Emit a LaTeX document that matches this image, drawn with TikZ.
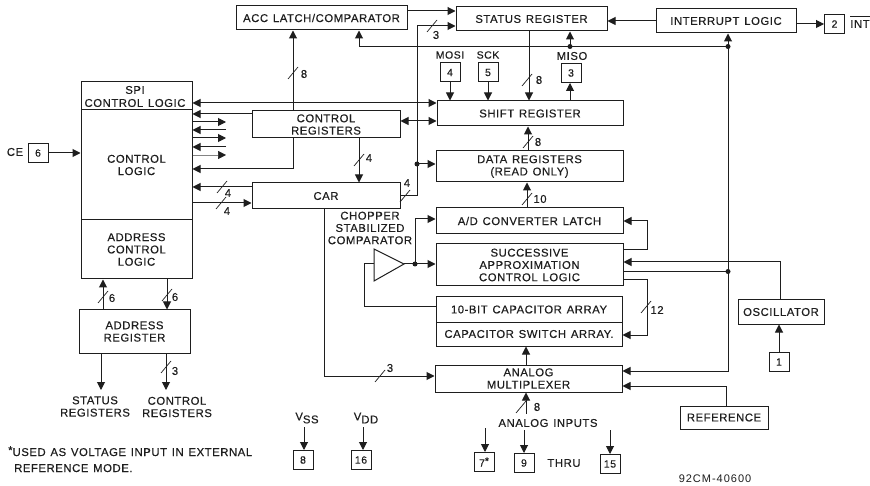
\documentclass[tikz,border=0pt]{standalone}
\usepackage{fontspec}
\setmainfont{Liberation Sans}[LetterSpace=5,WordSpace=1.3,FakeBold=0.35]
\newfontfamily\thinfont{Liberation Sans}[LetterSpace=9]
\usetikzlibrary{arrows.meta}
\definecolor{ink}{HTML}{1E1E1E}
\tikzset{
  tipn/.tip={Triangle[length=8pt,width=8pt]},
  conn/.style={draw=ink,line width=1pt},
  arr/.style={conn,-tipn},
  darr/.style={conn,tipn-tipn},
  faint/.style={draw=ink!55,line width=0.5pt,-{Triangle[length=8pt,width=8pt,color=ink]}},
  slashm/.style={draw=ink,line width=0.7pt},
  boxn/.style={draw=ink,line width=1pt,inner sep=0pt,align=center,text=ink,font=\fontsize{11.3}{12.3}\selectfont},
  lab/.style={inner sep=0pt,align=center,text=ink,font=\fontsize{11.3}{12.3}\selectfont},
  labs/.style={lab,font=\fontsize{10.5}{12}\selectfont},
  pin/.style={draw=ink,line width=1pt,inner sep=0pt,minimum width=20pt,minimum height=19pt,text=ink,font=\fontsize{10.5}{12}\selectfont},
  dotn/.style={circle,fill=ink,inner sep=0pt,minimum size=5pt}
}
\newcommand{\bx}[6]{\node[boxn,minimum width={(#4-#2)*1pt},minimum height={(#5-#3)*1pt}] (#1) at ({(#2+#4)/2},{(#3+#5)/2}) {#6};}
\newcommand{\slm}[2]{\draw[slashm] ({#1-5},{#2+6}) -- ({#1+5},{#2-6});}
\newcommand{\vsub}[1]{V\raisebox{-3pt}{#1}}
\begin{document}
\begin{tikzpicture}[x=1pt,y=-1pt]
\useasboundingbox (0,0) rectangle (870,486);
\fill[white] (0,0) rectangle (870,486);
% boxes
\bx{acc}{236}{6}{407}{30}{ACC LATCH/COMPARATOR}
\bx{status}{456}{7}{607}{31}{STATUS REGISTER}
\bx{intr}{656}{9}{796}{33}{INTERRUPT LOGIC}
\bx{spi}{81}{82}{192}{110}{}
\bx{ctl}{81}{110}{192}{220}{CONTROL\\LOGIC}
\bx{adc}{81}{220}{192}{279}{ADDRESS\\CONTROL\\LOGIC}
\bx{creg}{252}{111}{400}{138}{CONTROL\\REGISTERS}
\bx{car}{252}{183}{400}{209}{CAR}
\bx{shift}{437}{101}{623}{126}{SHIFT REGISTER}
\bx{data}{436}{151}{623}{182}{DATA REGISTERS\\(READ ONLY)}
\bx{adl}{436}{208}{623}{234}{A/D CONVERTER LATCH}
\bx{sar}{436}{244}{623}{286}{SUCCESSIVE\\APPROXIMATION\\CONTROL LOGIC}
\bx{cap}{436}{297}{622}{322}{10-BIT CAPACITOR ARRAY}
\bx{csw}{436}{322}{622}{346}{CAPACITOR SWITCH ARRAY.}
\bx{mux}{435}{365}{622}{392}{ANALOG\\MULTIPLEXER}
\bx{addr}{79}{310}{190}{353}{ADDRESS\\REGISTER}
\bx{osc}{738}{300}{824}{324}{OSCILLATOR}
\bx{ref}{680}{406}{768}{429}{REFERENCE}
\node[pin] (p6) at (38,153) {6};
\node[pin] (p2) at (834.5,24) {2};
\node[pin] (p4) at (450,72.5) {4};
\node[pin] (p5) at (488,72.5) {5};
\node[pin] (p3) at (571,73) {3};
\node[pin] (p1) at (779,362) {1};
\node[pin] (p7) at (484,462) {7\raisebox{2pt}{*}};
\node[pin] (p9) at (524,463) {9};
\node[pin] (p15) at (610,464) {15};
\node[pin] (p8) at (303,460) {8};
\node[pin] (p16) at (361,460) {16};
% texts
\node[lab,font=\fontsize{11.3}{13}\selectfont] (tspi) at (135,96.5) {SPI\\CONTROL LOGIC};
\node[lab] (tce) at (15,152) {CE};
\node[lab] (tint) at (860,24) {INT};
\draw[conn,line width=0.7pt] (850,16.5) -- (870,16.5);
\node[labs] (tmosi) at (450,55) {MOSI};
\node[labs] (tsck) at (488,55) {SCK};
\node[lab] (tmiso) at (572,56) {MISO};
\node[lab] (tchop) at (370,228) {CHOPPER\\STABILIZED\\COMPARATOR};
\node[lab] (tsr) at (95,406.5) {STATUS\\REGISTERS};
\node[lab] (tcr) at (177,407) {CONTROL\\REGISTERS};
\node[lab,align=left,anchor=base west,font=\fontsize{11.3}{16}\selectfont] (tfoot) at (8,472) {\raisebox{2pt}{*}USED AS VOLTAGE INPUT IN EXTERNAL\\\hspace*{6pt}REFERENCE MODE.};
\node[lab] (tvss) at (307,418) {\vsub{SS}};
\node[lab] (tvdd) at (366,418) {\vsub{DD}};
\node[lab] (tai) at (548,423) {ANALOG INPUTS};
\node[lab] (tthru) at (564,463) {THRU};
\node[lab,font=\fontsize{11}{12}\thinfont] (tnum) at (715,479) {92CM-40600};
\node[lab] (n8a) at (304,74) {8};
\node[lab] (n3a) at (436,35) {3};
\node[lab] (n4a) at (369,158) {4};
\node[lab] (n4b) at (407,183) {4};
\node[lab] (n4c) at (228,193) {4};
\node[lab] (n4d) at (227,211) {4};
\node[lab] (n8b) at (539,80) {8};
\node[lab] (n8c) at (538,142) {8};
\node[lab] (n10) at (540,199) {10};
\node[lab] (n12) at (657,310) {12};
\node[lab] (n3b) at (390,368) {3};
\node[lab] (n8d) at (537,407) {8};
\node[lab] (n6a) at (112,298) {6};
\node[lab] (n6b) at (175,297) {6};
\node[lab] (n3c) at (175,371) {3};
% dots
\node[dotn] (d1) at (417,164) {};
\node[dotn] (d2) at (415,264) {};
\node[dotn] (d3) at (570,46.5) {};
\node[dotn] (d4) at (728,46.5) {};
\node[dotn] (d5) at (728,271.5) {};
% comparator
\coordinate (ci) at (374,264);
\coordinate (co) at (404,264);
\draw[conn,fill=white] (374,249) -- (co) -- (374,281) -- cycle;
% connectors top
\draw[arr] (acc.east |- 0,11) -- (status.west |- 0,11);
\draw[conn] (car.east) -| (d1.center);
\draw[arr] (d1.center) |- (status.west |- 0,26);
\draw[arr] (d1.center) -- (data.west |- d1);
\draw[arr] (d3.center) -| (acc.south -| 359,0);
\draw[conn] (d3.center) -- (d4.center);
\draw[arr] (d3.center) -- (d3 |- status.south);
\draw[arr] (d4.center) -- (d4 |- intr.south);
\draw[conn] (d4.center) -- (d5.center);
\draw[arr] (d5.center) |- (mux.east |- 0,371);
\draw[conn] (sar.east |- d5) -- (d5.center);
\draw[arr] (intr.west) -- (status.east |- intr.west);
\draw[arr] (intr.east |- p2) -- (p2.west);
\draw[arr] (osc.north -| 780,0) |- (sar.east |- 0,262);
\draw[arr] (p1.north) -- (p1 |- osc.south);
\draw[arr] (ref.north -| 726,0) |- (mux.east |- 0,386);
\draw[arr] (sar.east |- 0,280) -- (647,280) |- (csw.east |- 0,335);
\draw[arr] (sar.east |- 0,250) -- (647,250) |- (adl.east |- 0,221);
\draw[arr] (status.south -| 529,0) -- (shift.north -| 529,0);
\draw[arr] (shift.north -| d3) -- (d3 |- p3.south);
\draw[arr] (p4.south) -- (p4 |- shift.north);
\draw[arr] (p5.south) -- (p5 |- shift.north);
\draw[arr] (data.north -| 528,0) -- (shift.south -| 528,0);
\draw[arr] (adl.north -| 527,0) -- (data.south -| 527,0);
\draw[arr] (mux.north -| 526,0) -- (csw.south -| 526,0);
\draw[arr] ([yshift=5pt]tai.north -| 526,0) -- (mux.south -| 526,0);
\draw[arr] (485,428) -- (p7.north -| 485,0);
\draw[arr] (524,430) -- (p9.north);
\draw[arr] (610,430) -- (p15.north);
\draw[darr] (spi.east |- 0,103) -- (shift.west |- 0,103);
\draw[darr] (creg.east |- 0,121) -- (shift.west |- 0,121);
\draw[arr] (creg.west |- 0,114) -- (ctl.east |- 0,114);
\coordinate (s1) at (226,122); \draw[arr] (ctl.east |- s1) -- (s1);
\coordinate (s2) at (226,130); \draw[arr] (s2) -- (ctl.east |- s2);
\coordinate (s3) at (226,138); \draw[arr] (ctl.east |- s3) -- (s3);
\coordinate (s4) at (226,147); \draw[arr] (s4) -- (ctl.east |- s4);
\coordinate (s5) at (226,155); \draw[faint] (ctl.east |- s5) -- (s5);
\draw[arr] (creg.south -| 293,0) |- (ctl.east |- 0,169);
\draw[arr] (car.west |- 0,187) -- (ctl.east |- 0,187);
\draw[arr] (ctl.east |- 0,203) -- (car.west |- 0,203);
\draw[arr] (creg.south -| 359,0) -- (car.north -| 359,0);
\draw[arr] (creg.north -| 293,0) -- (acc.south -| 293,0);
\draw[arr] (p6.east) -- (ctl.west |- p6);
\draw[arr] (car.south -| 324,0) |- (mux.west |- 0,376);
\draw[conn] (co) -- (d2.center);
\draw[arr] (d2.center) -- (sar.west |- d2);
\draw[arr] (d2.center) |- (adl.west |- 0,219);
\draw[conn] (ci) -- (364,264) |- (cap.west |- 0,307);
\draw[arr] (addr.north -| 103,0) -- (adc.south -| 103,0);
\draw[arr] (adc.south -| 167,0) -- (addr.north -| 167,0);
\draw[arr] (addr.south -| 101,0) -- (101,390);
\draw[arr] (addr.south -| 166,0) -- (166,390);
\draw[arr] (304,427) -- (p8.north -| 304,0);
\draw[arr] (363,427) -- (p16.north -| 363,0);
% bus slashes
\slm{293}{73}\slm{432}{26}\slm{359}{160}\slm{405}{196}\slm{222}{187}\slm{221}{203}
\slm{527}{80}\slm{528}{142}\slm{527}{199}\slm{646}{307}\slm{380}{376}\slm{521}{407}
\slm{103}{297}\slm{167}{295}\slm{166}{367}
\end{tikzpicture}
\end{document}
